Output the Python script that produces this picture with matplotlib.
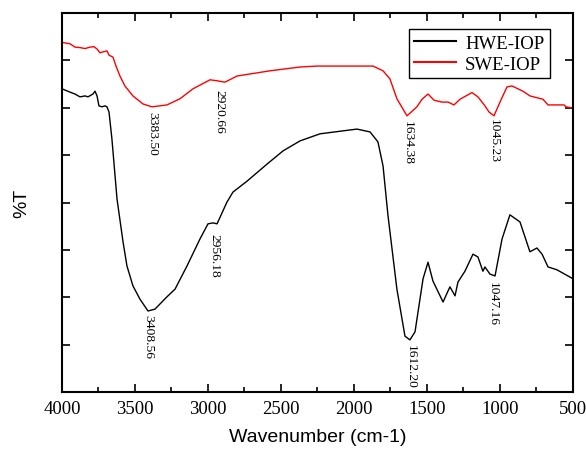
import numpy as np
import matplotlib
matplotlib.use('Agg')
import matplotlib.pyplot as plt
from matplotlib.ticker import MultipleLocator, NullFormatter

# FTIR spectra (wavenumber in cm-1, transmittance in arbitrary units)
hwe_wn = [4000, 3945, 3911, 3877, 3842, 3822, 3788, 3774, 3760, 3747, 3726, 3706,
          3692, 3678, 3658, 3623, 3582, 3555, 3514, 3466,
          3411, 3363, 3281, 3226, 3144, 3055, 3000, 2966, 2938, 2870, 2829, 2733,
          2596, 2486, 2370, 2233, 1980, 1890, 1836, 1801, 1767, 1706, 1651, 1617,
          1582, 1527, 1493, 1459, 1390, 1343, 1308, 1288, 1240, 1185, 1151, 1117,
          1103, 1069, 1034, 986, 932, 863, 795, 747, 712, 671, 610, 500]
hwe_t = [64.0, 63.3, 62.9, 62.3, 62.5, 62.3, 62.9, 63.5, 62.5, 60.4, 60.2, 60.4,
         60.2, 59.1, 53.4, 40.7, 31.7, 26.6, 22.4, 19.6,
         17.1, 17.5, 20.1, 21.7, 26.6, 32.3, 35.5, 35.7, 35.5, 40.1, 42.2, 44.5,
         48.1, 50.9, 53.0, 54.5, 55.5, 54.9, 52.8, 47.7, 37.2, 21.7, 11.8, 11.0,
         12.7, 23.9, 27.4, 23.4, 19.0, 22.2, 20.3, 23.2, 25.5, 29.1, 28.5, 25.5,
         26.4, 24.9, 24.5, 32.3, 37.4, 35.9, 29.6, 30.4, 29.1, 26.4, 25.8, 23.9]

swe_wn = [4000, 3945, 3911, 3877, 3842, 3808, 3781, 3760, 3740, 3719, 3692, 3678,
          3651, 3630, 3603, 3569, 3514, 3445, 3384,
          3281, 3192, 3103, 2986, 2938, 2884, 2801, 2575, 2370, 2253, 2027, 1870,
          1801, 1754, 1706, 1637, 1569, 1534, 1493, 1452, 1397, 1356, 1315, 1274,
          1192, 1151, 1103, 1075, 1041, 1000, 952, 918, 843, 795, 706, 671, 561, 548, 514]
swe_t = [73.8, 73.5, 72.8, 72.7, 72.5, 72.8, 72.9, 72.4, 71.6, 71.8, 72.0, 71.1,
         70.7, 68.8, 66.7, 64.6, 62.5, 60.8, 60.2,
         60.6, 61.9, 64.0, 65.9, 65.7, 65.4, 66.7, 67.8, 68.6, 68.8, 68.8, 68.8,
         67.8, 66.1, 61.9, 58.3, 60.2, 61.8, 62.9, 61.6, 61.2, 61.2, 60.6, 61.8,
         63.2, 62.3, 60.4, 59.1, 58.3, 61.2, 64.4, 64.6, 63.5, 62.5, 61.8, 60.6,
         60.6, 60.2, 60.0]

# peak labels: (text, wavenumber, transmittance)
peak_labels = ['3383.50', '2920.66', '1634.38', '1045.23',
               '3408.56', '2956.18', '1612.20', '1047.16']
peak_wn = [3383.5, 2920.66, 1634.38, 1045.23, 3408.56, 2956.18, 1612.20, 1047.16]
peak_t = [59.4, 64.0, 57.4, 57.8, 16.5, 33.5, 10.2, 23.5]

serif = 'Liberation Serif'
sans = 'Liberation Sans'

fig = plt.figure(figsize=(5.86, 4.52), dpi=100)
ax = fig.add_axes([0.1058, 0.1305, 0.872, 0.8385])

ax.plot(hwe_wn, hwe_t, color='black', lw=1.0, label='HWE-IOP')
ax.plot(swe_wn, swe_t, color='red', lw=1.0, label='SWE-IOP')

for lab, x, y in zip(peak_labels, peak_wn, peak_t):
    ax.text(x, y, lab, rotation=-90, ha='center', va='top',
            family=serif, fontsize=9.7)

ax.set_xlim(4000, 500)
ax.set_ylim(0, 80)
ax.xaxis.set_major_locator(MultipleLocator(500))
ax.xaxis.set_minor_locator(MultipleLocator(250))
ax.yaxis.set_major_locator(MultipleLocator(10))
ax.yaxis.set_major_formatter(NullFormatter())
ax.tick_params(axis='both', which='major', direction='in', length=6, width=1.2,
               top=True, right=True)
ax.tick_params(axis='x', which='minor', direction='in', length=3.5, width=1.2,
               top=True)
ax.tick_params(axis='x', labelsize=13.5, pad=6)
for t in ax.get_xticklabels():
    t.set_family(serif)
for s in ax.spines.values():
    s.set_linewidth(1.5)

ax.set_xlabel('Wavenumber (cm-1)', family=sans, fontsize=14, labelpad=8)
ax.set_ylabel('%T', family=sans, fontsize=14, labelpad=19)

leg = ax.legend(loc='upper right', bbox_to_anchor=(0.955, 0.958), borderaxespad=0,
                prop={'family': serif, 'size': 13.5}, fancybox=False,
                edgecolor='black', framealpha=1, handlelength=2.2,
                borderpad=0.3, labelspacing=0.2, handletextpad=0.5)
leg.get_frame().set_linewidth(1.0)
for l in leg.get_lines():
    l.set_linewidth(1.5)

plt.savefig('out.png', dpi=100)
